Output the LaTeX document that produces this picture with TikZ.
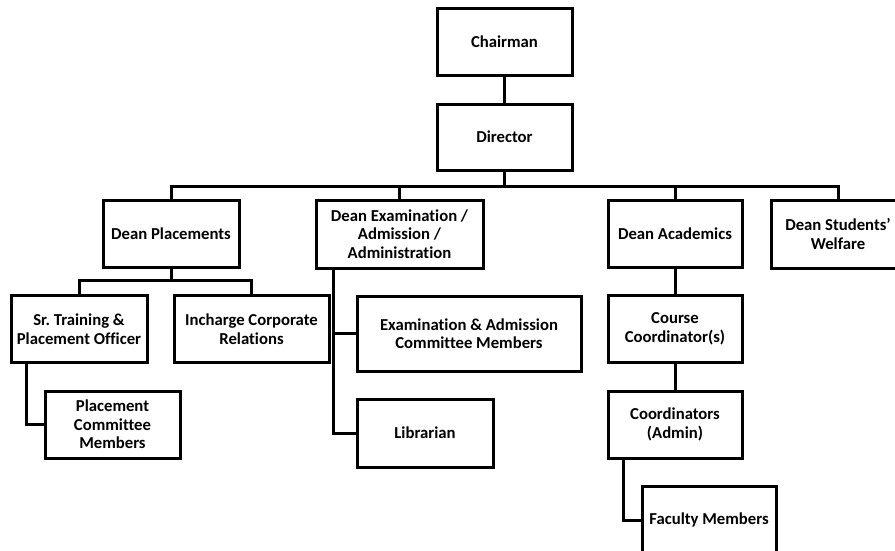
\documentclass[tikz,border=0pt]{standalone}
\usepackage{fontspec}
\setmainfont{Carlito}[Ligatures={NoCommon}]
\usetikzlibrary{positioning}

\tikzset{
  post/.style={draw, line width=3pt, fill=white, align=center, inner sep=2pt,
    font=\fontsize{16.7}{18.5}\selectfont\bfseries},
  link/.style={line width=3pt}
}

\begin{document}
\begin{tikzpicture}[x=1pt, y=-1pt]
        \clip (0,0) rectangle (895,550);

        % top
        \node[post, minimum width=135pt, minimum height=67pt] (chair) at (504.5,41.5) {Chairman};
        \node[post, minimum width=135pt, minimum height=66pt] (director) at (504.5,137) {Director};

        % deans
        \node[post, minimum width=136pt, minimum height=67pt] (placements) at (171,233.5) {Dean Placements};
        \node[post, minimum width=167pt, minimum height=68pt] (exam) at (399.5,234) {Dean Examination /\\ Admission /\\ Administration};
        \node[post, minimum width=134pt, minimum height=67pt] (academics) at (675,233.5) {Dean Academics};
        \node[post, minimum width=134pt, minimum height=68pt] (welfare) at (838,234) {Dean Students’\\ Welfare};

        % placements
        \node[post, minimum width=136pt, minimum height=67pt] (training) at (79,329) {Sr.\ Training \&\\ Placement Officer};
        \node[post, minimum width=155pt, minimum height=67pt] (corporate) at (251.5,329) {Incharge Corporate\\ Relations};
        \node[post, minimum width=135pt, minimum height=67pt] (placecomm) at (112.5,424.5) {Placement\\ Committee\\ Members};

        % examination
        \node[post, minimum width=224pt, minimum height=75pt] (examcomm) at (469,333.5) {Examination \& Admission\\ Committee Members};
        \node[post, minimum width=136pt, minimum height=68pt] (librarian) at (425,433) {Librarian};

        % academics
        \node[post, minimum width=134pt, minimum height=67pt] (course) at (675,329) {Course\\ Coordinator(s)};
        \node[post, minimum width=134pt, minimum height=67pt] (coord) at (675,424.5) {Coordinators\\ (Admin)};
        \node[post, minimum width=134pt, minimum height=67pt] (faculty) at (709,520) {Faculty Members};

        % chairman -> director -> deans
        \coordinate (bus) at (504.5,186);
        \draw[link] (chair) -- (director);
        \draw[link] (director) -- (bus);
        \draw[link] (placements.north) -- (placements.north |- bus) -- (welfare.north |- bus) -- (welfare.north);
        \draw[link] (exam.north) -- (exam.north |- bus);
        \draw[link] (academics.north) -- (academics.north |- bus);

        % placements
        \coordinate (pbus) at (171,280);
        \draw[link] (placements) -- (pbus);
        \draw[link] (training.north) -- (training.north |- pbus) -- (corporate.north |- pbus) -- (corporate.north);
        \draw[link] ([xshift=-53pt]training.south) |- (placecomm);

        % examination
        \draw[link] ([xshift=-66.5pt]exam.south) |- (examcomm);
        \draw[link] ([xshift=-66.5pt]exam.south) |- (librarian);

        % academics
        \draw[link] (academics) -- (course);
        \draw[link] (course) -- (coord);
        \draw[link] ([xshift=-52pt]coord.south) |- (faculty);
    \end{tikzpicture}
\end{document}
